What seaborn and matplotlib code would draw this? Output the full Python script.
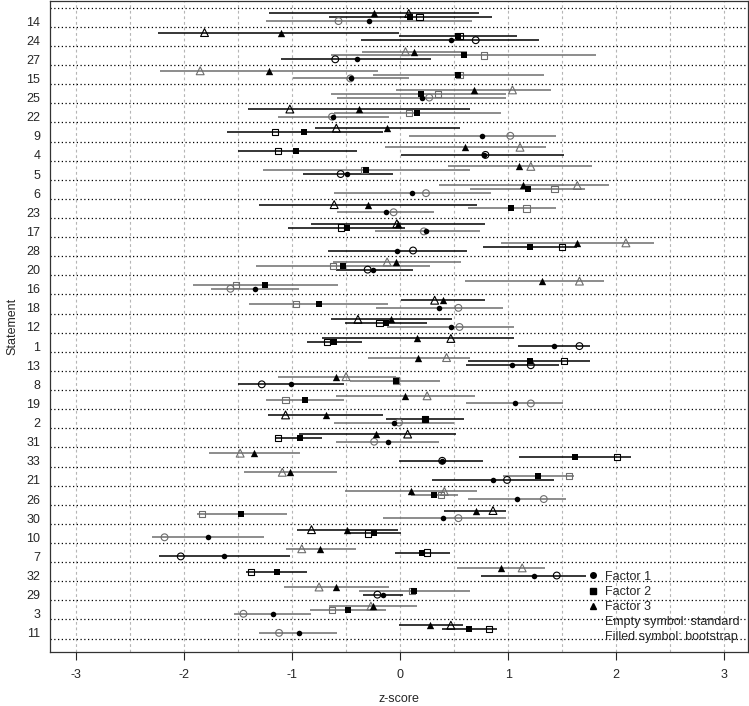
import matplotlib
matplotlib.use("Agg")
import matplotlib.pyplot as plt
import seaborn as sns
import numpy as np
import pandas as pd
from matplotlib.lines import Line2D

# statements, top to bottom
statements = [14, 24, 27, 15, 25, 22, 9, 4, 5, 6, 23, 17, 28, 20, 16, 18, 12,
              1, 13, 8, 19, 2, 31, 33, 21, 26, 30, 10, 7, 32, 29, 3, 11]

# Factor 1 (circle)
f1_std = [-0.57, 0.70, -0.60, -0.46, 0.27, -0.63, 1.02, 0.79, -0.55, 0.24, -0.06,
          0.22, 0.12, -0.30, -1.57, 0.54, 0.55, 1.66, 1.21, -1.28, 1.21, -0.01,
          -0.24, 0.39, 0.99, 1.33, 0.54, -2.18, -2.03, 1.45, -0.21, -1.45, -1.12]
f1_boot = [-0.29, 0.47, -0.40, -0.45, 0.20, -0.62, 0.76, 0.78, -0.49, 0.11, -0.13,
           0.24, -0.03, -0.25, -1.34, 0.36, 0.47, 1.42, 1.04, -1.01, 1.06, -0.06,
           -0.11, 0.39, 0.86, 1.08, 0.40, -1.78, -1.63, 1.24, -0.16, -1.18, -0.94]
f1_lo = [-1.24, -0.36, -1.10, -0.99, -0.58, -1.13, 0.08, 0.01, -0.90, -0.61, -0.58,
         -0.23, -0.67, -0.59, -1.75, -0.22, -0.12, 1.09, 0.61, -1.50, 0.61, -0.61,
         -0.59, -0.01, 0.30, 0.63, -0.16, -2.30, -2.23, 0.75, -0.34, -1.54, -1.31]
f1_hi = [0.67, 1.29, 0.29, 0.08, 0.98, -0.10, 1.44, 1.52, -0.07, 0.84, 0.31,
         0.74, 0.62, 0.12, -0.94, 0.95, 1.05, 1.76, 1.47, -0.52, 1.51, 0.50,
         0.36, 0.77, 1.42, 1.54, 0.98, -1.26, -1.02, 1.72, 0.03, -0.82, -0.58]
f1_grey = [1, 0, 0, 1, 1, 1, 1, 0, 0, 1, 1, 1, 0, 0, 1, 1, 1,
           0, 0, 0, 1, 1, 1, 0, 0, 1, 1, 1, 0, 0, 0, 1, 1]

# Factor 2 (square)
f2_std = [0.18, 0.55, 0.78, 0.55, 0.35, 0.08, -1.16, -1.13, -0.33, 1.43, 1.17,
          -0.55, 1.50, -0.62, -1.52, -0.96, -0.19, -0.68, 1.52, -0.04, -1.06, 0.23,
          -1.13, 2.01, 1.56, 0.38, -1.83, -0.30, 0.25, -1.38, 0.11, -0.63, 0.82]
f2_boot = [0.09, 0.54, 0.59, 0.54, 0.19, 0.16, -0.89, -0.96, -0.32, 1.18, 1.03,
           -0.49, 1.20, -0.53, -1.25, -0.75, -0.13, -0.61, 1.20, -0.04, -0.88, 0.23,
           -0.93, 1.62, 1.28, 0.31, -1.47, -0.24, 0.20, -1.14, 0.13, -0.48, 0.64]
f2_lo = [-0.66, -0.01, -0.64, -0.25, -0.64, -0.61, -1.60, -1.50, -1.27, 0.65, 0.63,
         -1.04, 0.77, -1.33, -1.92, -1.40, -0.51, -0.86, 0.63, -0.46, -1.24, -0.13,
         -1.15, 1.10, 0.95, 0.10, -1.88, -0.50, -0.05, -1.43, -0.38, -0.83, 0.39]
f2_hi = [0.85, 1.08, 1.81, 1.33, 0.98, 0.93, -0.16, -0.40, 0.65, 1.71, 1.44,
         0.05, 1.64, 0.28, -0.57, -0.11, 0.25, -0.35, 1.76, 0.37, -0.52, 0.59,
         -0.72, 2.14, 1.61, 0.54, -1.05, 0.01, 0.46, -0.86, 0.65, -0.13, 0.90]
f2_grey = [0, 0, 1, 1, 1, 1, 0, 0, 1, 1, 1, 0, 0, 1, 1, 1, 0,
           0, 0, 1, 1, 0, 0, 0, 1, 1, 1, 0, 0, 0, 1, 1, 0]

# Factor 3 (triangle)
f3_std = [0.08, -1.81, 0.05, -1.85, 1.04, -1.02, -0.59, 1.11, 1.21, 1.64, -0.61,
          -0.03, 2.09, -0.12, 1.66, 0.32, -0.39, 0.47, 0.43, -0.50, 0.25, -1.06,
          0.07, -1.48, -1.09, 0.41, 0.86, -0.82, -0.91, 1.13, -0.75, -0.27, 0.47]
f3_boot = [-0.24, -1.10, 0.13, -1.21, 0.68, -0.38, -0.12, 0.60, 1.10, 1.14, -0.30,
           -0.02, 1.64, -0.04, 1.31, 0.40, -0.08, 0.16, 0.17, -0.59, 0.05, -0.69,
           -0.22, -1.35, -1.02, 0.10, 0.70, -0.49, -0.74, 0.93, -0.59, -0.25, 0.28]
f3_lo = [-1.21, -2.24, -0.35, -2.22, -0.04, -1.41, -0.79, -0.14, 0.44, 0.36, -1.31,
         -0.82, 0.93, -0.62, 0.60, 0.01, -0.64, -0.72, -0.30, -1.13, -0.59, -1.22,
         -0.94, -1.77, -1.44, -0.51, 0.41, -0.95, -1.06, 0.53, -1.07, -0.66, -0.01]
f3_hi = [0.73, -0.01, 0.62, -0.20, 1.40, 0.65, 0.55, 1.35, 1.78, 1.93, 0.71,
         0.79, 2.35, 0.56, 1.89, 0.79, 0.48, 1.05, 0.65, -0.04, 0.69, -0.16,
         0.52, -0.93, -0.58, 0.71, 0.98, -0.02, -0.41, 1.34, -0.10, 0.16, 0.58]
f3_grey = [0, 0, 1, 1, 1, 0, 0, 1, 1, 1, 0, 0, 1, 1, 1, 0, 0,
           0, 1, 1, 1, 0, 0, 1, 1, 1, 0, 0, 1, 1, 1, 1, 0]

factors = [
    ("Factor 1", f1_std, f1_boot, f1_lo, f1_hi, f1_grey),
    ("Factor 2", f2_std, f2_boot, f2_lo, f2_hi, f2_grey),
    ("Factor 3", f3_std, f3_boot, f3_lo, f3_hi, f3_grey),
]

GREY = "#6e6e6e"
n = len(statements)
rows = []
for k, (name, std, boot, lo, hi, grey) in enumerate(factors):
    for i, st in enumerate(statements):
        rows.append(dict(statement=st, factor=name, y=n - i + 0.2 * k,
                         std=std[i], boot=boot[i], lo=lo[i], hi=hi[i],
                         color=GREY if grey[i] else "black"))
df = pd.DataFrame(rows)

sns.set_style("white")
plt.rcParams["font.family"] = ["Liberation Sans", "DejaVu Sans"]

fig = plt.figure(figsize=(7.49, 7.06), dpi=100)
ax = fig.add_axes([50 / 749, 54 / 706, 698 / 749, 651 / 706])

# grid
for gx in np.arange(-3, 3.01, 0.5):
    ax.axvline(gx, color="#b5b5b5", lw=0.8, ls=(0, (2.5, 2.5)), zorder=0)
for gy in np.arange(0.7, n + 0.8, 1.0):
    ax.axhline(gy, color="black", lw=0.9, ls=(0, (1, 2)), zorder=1)

# error bars
ax.hlines(df["y"], df["lo"], df["hi"], colors=df["color"], lw=1.1, zorder=2)

markers = {"Factor 1": ("o", 16, 24), "Factor 2": ("s", 18, 20), "Factor 3": ("^", 28, 32)}
for name, (mk, s_fill, s_empty) in markers.items():
    sub = df[df["factor"] == name]
    sns.scatterplot(x=sub["std"].values, y=sub["y"].values, marker=mk, s=s_empty,
                    color="none", edgecolor=list(sub["color"]), linewidth=0.8,
                    ax=ax, zorder=3, legend=False)
    sns.scatterplot(x=sub["boot"].values, y=sub["y"].values, marker=mk, s=s_fill,
                    color="black", edgecolor="black", linewidth=0,
                    ax=ax, zorder=4, legend=False)

ax.set_xlim(-3.24, 3.22)
ax.set_ylim(0.0, 34.05)
ax.set_xticks(range(-3, 4))
ax.set_xticklabels([str(v) for v in range(-3, 4)])
f1 = df[df["factor"] == "Factor 1"]
ax.set_yticks(f1["y"])
ax.set_yticklabels([str(s) for s in f1["statement"]])
ax.tick_params(axis="y", length=0, pad=7, labelsize=9)
ax.tick_params(axis="x", length=6, width=0.8, pad=6, labelsize=9, direction="out",
               bottom=True)
ax.set_xlabel("z-score", fontsize=9, labelpad=9)
ax.set_ylabel("Statement", fontsize=9, labelpad=6)
for sp in ax.spines.values():
    sp.set_color("#333333")
    sp.set_linewidth(0.9)

handles = [
    Line2D([], [], marker="o", color="black", ls="none", ms=4, label="Factor 1"),
    Line2D([], [], marker="s", color="black", ls="none", ms=4.5, label="Factor 2"),
    Line2D([], [], marker="^", color="black", ls="none", ms=5, label="Factor 3"),
    Line2D([], [], ls="none", label="Empty symbol: standard"),
    Line2D([], [], ls="none", label="Filled symbol: bootstrap"),
]
ax.legend(handles=handles, loc="lower right", bbox_to_anchor=(1.0, 0.0),
          frameon=False, fontsize=9, handlelength=0.8, handletextpad=0.5,
          labelspacing=0.25, borderaxespad=0.3)

fig.savefig("out.png", dpi=100)
